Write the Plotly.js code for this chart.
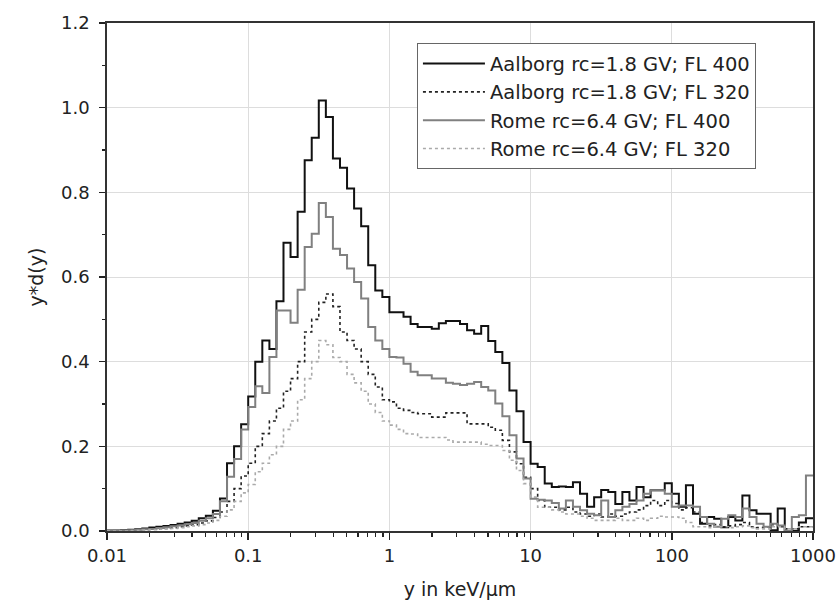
<!DOCTYPE html>
<html>
<head>
<meta charset="utf-8">
<script src="https://cdn.plot.ly/plotly-3.0.1.min.js"></script>
<style>html,body{margin:0;padding:0;background:#fff;}</style>
</head>
<body>
<div id="chart" style="width:840px;height:608px;"></div>
<script>
// Log-spaced bin edges (20 bins per decade)
const binEdges = [
0.01,0.01122,0.01259,0.01413,0.01585,0.01778,0.01995,0.02239,0.02512,0.02818,0.03162,0.03548,0.03981,0.04467,0.05012,0.05623,0.0631,0.07079,0.07943,0.08913,
0.1,0.1122,0.1259,0.1413,0.1585,0.1778,0.1995,0.2239,0.2512,0.2818,0.3162,0.3548,0.3981,0.4467,0.5012,0.5623,0.631,0.7079,0.7943,0.8913,
1,1.122,1.259,1.413,1.585,1.778,1.995,2.239,2.512,2.818,3.162,3.548,3.981,4.467,5.012,5.623,6.31,7.079,7.943,8.913,
10,11.22,12.59,14.13,15.85,17.78,19.95,22.39,25.12,28.18,31.62,35.48,39.81,44.67,50.12,56.23,63.1,70.79,79.43,89.13,
100,112.2,125.9,141.3,158.5,177.8,199.5,223.9,251.2,281.8,316.2,354.8,398.1,446.7,501.2,562.3,631,707.9,794.3,891.3,1000];

const seriesNames = ["Aalborg rc=1.8 GV; FL 400","Aalborg rc=1.8 GV; FL 320","Rome rc=6.4 GV; FL 400","Rome rc=6.4 GV; FL 320"];

const aalborg400 = [
0.001,0.001,0.002,0.003,0.004,0.006,0.008,0.010,0.012,0.014,0.017,0.020,0.024,0.030,0.036,0.048,
0.077,0.16,0.20,0.252,0.318,0.40,0.45,0.43,0.543,0.681,0.647,0.754,0.876,0.929,1.017,0.978,0.88,0.858,0.809,0.762,0.72,0.628,0.568,0.553,0.517,
0.517,0.506,0.489,0.482,0.482,0.478,0.491,0.496,0.496,0.489,0.474,0.466,0.484,0.449,0.423,0.397,0.332,0.283,0.210,0.159,0.151,0.112,0.104,0.105,0.104,0.115,0.088,0.057,0.080,0.097,0.092,0.064,0.092,0.072,0.104,0.080,0.096,0.096,0.113,0.088,0.057,0.108,0.041,0.017,0.033,0.029,0.009,0.033,0.025,0.084,0.049,0.041,0.041,0.002,0.053,0.0,0.0,0.02,0.03];

const aalborg320 = [
0.0,0.0,0.001,0.001,0.002,0.003,0.004,0.005,0.006,0.008,0.010,0.012,0.015,0.019,0.024,0.032,
0.045,0.07,0.10,0.13,0.16,0.20,0.23,0.26,0.29,0.33,0.36,0.40,0.47,0.50,0.54,0.56,0.53,0.47,0.45,0.43,0.40,0.37,0.34,0.31,0.305,0.29,0.285,0.28,
0.277,0.277,0.269,0.269,0.279,0.279,0.279,0.253,0.253,0.253,0.245,0.238,0.214,0.187,0.159,0.127,
0.10,0.072,0.056,0.056,0.05,0.056,0.045,0.04,0.035,0.04,0.033,0.04,0.035,0.04,0.045,0.05,0.06,0.072,0.06,0.072,0.065,0.05,0.055,0.045,0.02,0.012,0.015,0.01,0.012,0.015,0.02,0.01,0.008,0.01,0.015,0.01,0.005,0.005,0.01,0.01];

const rome400 = [
0.0,0.001,0.001,0.002,0.003,0.004,0.005,0.007,0.009,0.011,0.013,0.016,0.019,0.024,0.030,0.040,
0.07,0.128,0.17,0.24,0.293,0.342,0.326,0.411,0.521,0.521,0.492,0.57,0.671,0.702,0.775,0.742,0.667,0.652,0.62,0.588,0.549,0.482,0.45,0.43,0.411,
0.41,0.395,0.376,0.368,0.368,0.36,0.36,0.35,0.348,0.345,0.348,0.352,0.34,0.332,0.301,0.271,0.226,0.171,0.124,0.076,0.074,0.072,0.066,0.053,0.072,0.057,0.049,0.041,0.037,0.072,0.033,0.049,0.057,0.064,0.072,0.088,0.096,0.096,0.088,0.057,0.06,0.06,0.057,0.033,0.017,0.01,0.029,0.037,0.033,0.053,0.033,0.017,0.01,0.017,0.013,0.0,0.033,0.037,0.131];

const rome320 = [
0,0,0,0.001,0.001,0.002,0.003,0.004,0.005,0.006,0.008,0.010,0.012,0.015,0.019,0.025,
0.035,0.05,0.07,0.09,0.11,0.14,0.16,0.18,0.20,0.24,0.26,0.31,0.36,0.40,0.45,0.44,0.41,0.40,0.37,0.35,0.33,0.30,0.28,0.26,0.25,0.24,0.23,0.229,
0.221,0.221,0.221,0.221,0.215,0.21,0.21,0.21,0.21,0.205,0.202,0.202,0.19,0.167,0.143,0.112,0.08,0.056,0.056,
0.05,0.045,0.04,0.04,0.035,0.03,0.025,0.025,0.025,0.03,0.025,0.025,0.03,0.025,0.03,0.035,0.033,0.033,0.03,0.02,0.01,0.01,0.008,0.01,0.01,0.008,0.01,0.012,0.008,0.005,0.005,0.01,0.01,0.005,0.005,0.01,0.01];

const majorTicks = [0.01,0.1,1,10,100,1000];
const majorTickText = ["0.01","0.1","1","10","100","1000"];
const minorTicks = [0.02,0.03,0.04,0.05,0.06,0.07,0.08,0.09,0.2,0.3,0.4,0.5,0.6,0.7,0.8,0.9,2,3,4,5,6,7,8,9,20,30,40,50,60,70,80,90,200,300,400,500,600,700,800,900];

function stepY(v){ return v.concat([v[v.length-1]]); }

const FONT = "DejaVu Sans, Liberation Sans, Arial, sans-serif";

const traces = [
  {x: binEdges, y: stepY(aalborg400), name: seriesNames[0], mode:"lines", line:{shape:"hv", color:"#111111", width:2}},
  {x: binEdges, y: stepY(aalborg320), name: seriesNames[1], mode:"lines", line:{shape:"hv", color:"#222222", width:1.6, dash:"dot"}},
  {x: binEdges, y: stepY(rome400), name: seriesNames[2], mode:"lines", line:{shape:"hv", color:"#808080", width:2}},
  {x: binEdges, y: stepY(rome320), name: seriesNames[3], mode:"lines", line:{shape:"hv", color:"#aaaaaa", width:1.6, dash:"dot"}}
];

const layout = {
  width: 840, height: 608,
  margin: {l:107, r:27, t:23, b:77},
  paper_bgcolor: "#ffffff", plot_bgcolor: "#ffffff",
  font: {family: FONT, size: 18, color: "#222222"},
  showlegend: true,
  legend: {x:0.439, y:0.96, xanchor:"left", yanchor:"top", bgcolor:"#ffffff", bordercolor:"#666666", borderwidth:1, itemwidth:62, font:{family:FONT, size:19.5, color:"#222222"}, tracegroupgap:0},
  xaxis: {
    type:"log", range:[-2,3],
    tickmode:"array", tickvals: majorTicks, ticktext: majorTickText,
    ticks:"outside", ticklen:7, tickwidth:1.5, tickcolor:"#222",
    showline:true, linewidth:2, linecolor:"#333", mirror:true,
    showgrid:true, gridcolor:"#dddddd", gridwidth:1, zeroline:false,
    minor:{tickmode:"array", tickvals: minorTicks, ticks:"outside", ticklen:4, tickwidth:1.2, tickcolor:"#222", showgrid:false},
    tickfont:{family:FONT, size:18, color:"#222"},
    title:{text:"y in keV/μm", font:{family:FONT, size:19, color:"#222"}, standoff:18}
  },
  yaxis: {
    range:[0,1.2], tick0:0, dtick:0.2, tickformat:".1f", ticksuffix:"\u00a0",
    ticks:"outside", ticklen:6, tickwidth:1.5, tickcolor:"#222",
    showline:true, linewidth:2, linecolor:"#333", mirror:true,
    showgrid:true, gridcolor:"#dddddd", gridwidth:1, zeroline:false,
    minor:{dtick:0.1, ticks:"outside", ticklen:3, tickwidth:1.2, tickcolor:"#222", showgrid:false},
    tickfont:{family:FONT, size:18, color:"#222"},
    title:{text:"y*d(y)", font:{family:FONT, size:19, color:"#222"}, standoff:12}
  }
};

Plotly.newPlot("chart", traces, layout, {staticPlot:true, displayModeBar:false});
</script>
</body>
</html>
